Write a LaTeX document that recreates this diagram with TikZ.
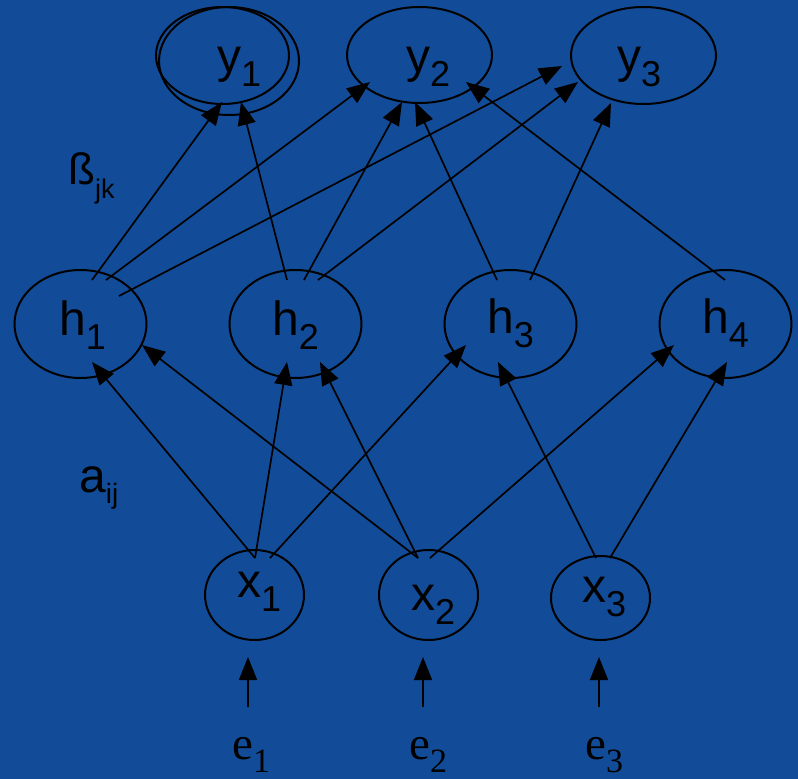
\documentclass[tikz,border=0pt]{standalone}
\usepackage{fontspec}
\setmainfont{Liberation Sans}
\newfontfamily\serifface{Liberation Serif}
\usetikzlibrary{shapes.geometric,arrows.meta}
\definecolor{bgblue}{RGB}{18,76,152}
\newcommand{\vsub}[2]{#1\raisebox{-14pt}{\fontsize{36}{36}\selectfont #2}}
\newcommand{\esub}[2]{{\serifface\fontsize{47}{47}\selectfont #1\raisebox{-13pt}{\fontsize{34}{34}\selectfont #2}}}
\begin{document}
\begin{tikzpicture}[x=1pt,y=-1pt,
  ell/.style={ellipse, draw=black, line width=2pt, inner sep=0pt},
  lab/.style={inner sep=0pt, anchor=base west, text=black, font=\fontsize{48}{48}\selectfont},
  arr/.style={draw=black, line width=1.7pt, -{Triangle[length=23pt,width=18pt]}}]
\useasboundingbox (0,0) rectangle (798,779);
\fill[bgblue] (0,0) rectangle (798,779);
% output layer
\node[ell, minimum width=133pt, minimum height=97pt] (y1) at (222.5,55.5) {};
\node[ell, minimum width=140pt, minimum height=108pt] (y1b) at (229,61) {};
\node[ell, minimum width=145pt, minimum height=96pt] (y2) at (419.5,55) {};
\node[ell, minimum width=145pt, minimum height=97pt] (y3) at (643.5,55.5) {};
% hidden layer
\node[ell, minimum width=132pt, minimum height=108pt] (h1) at (80.5,324) {};
\node[ell, minimum width=132pt, minimum height=108pt] (h2) at (295.5,324) {};
\node[ell, minimum width=132pt, minimum height=108pt] (h3) at (510.5,324) {};
\node[ell, minimum width=132pt, minimum height=108pt] (h4) at (725.5,324) {};
% input layer
\node[ell, minimum width=99pt, minimum height=90pt] (x1) at (254.5,595) {};
\node[ell, minimum width=99pt, minimum height=90pt] (x2) at (428.5,595) {};
\node[ell, minimum width=99pt, minimum height=84pt] (x3) at (600.5,598) {};
% labels
\node[lab] (ty1) at (217,72) {\vsub{y}{1}};
\node[lab] (ty2) at (406,72) {\vsub{y}{2}};
\node[lab] (ty3) at (617,72) {\vsub{y}{3}};
\node[lab] (th1) at (59,335) {\vsub{h}{1}};
\node[lab] (th2) at (272,335) {\vsub{h}{2}};
\node[lab] (th3) at (487,333) {\vsub{h}{3}};
\node[lab] (th4) at (702,333) {\vsub{h}{4}};
\node[lab] (tx1) at (237,597) {\vsub{x}{1}};
\node[lab] (tx2) at (411,610) {\vsub{x}{2}};
\node[lab] (tx3) at (582,602) {\vsub{x}{3}};
\node[lab] (e1) at (232,759) {\esub{e}{1}};
\node[lab] (e2) at (409,759) {\esub{e}{2}};
\node[lab] (e3) at (585,759) {\esub{e}{3}};
\node[lab, font=\fontsize{44}{44}\selectfont] (beta) at (68,184) {ß\raisebox{-14pt}{\fontsize{27}{27}\selectfont jk}};
\node[lab] (alpha) at (79,492) {a\raisebox{-11pt}{\fontsize{28}{28}\selectfont ij}};
% hidden -> output
\draw[arr] ([shift={(11.5,-44)}]h1.center) -- ([shift={(-0.5,46.5)}]y1.center);
\draw[arr] ([shift={(-8.5,-44)}]h2.center) -- ([shift={(18.5,46.5)}]y1.center);
\draw[arr] ([shift={(25.5,-44)}]h1.center) -- ([shift={(-49.5,27)}]y2.center);
\draw[arr] ([shift={(8.5,-44)}]h2.center) -- ([shift={(-17.5,47)}]y2.center);
\draw[arr] ([shift={(-13.5,-44)}]h3.center) -- ([shift={(-4.5,47)}]y2.center);
\draw[arr] ([shift={(-0.5,-44)}]h4.center) -- ([shift={(46.5,27)}]y2.center);
\draw[arr] ([shift={(38.5,-28)}]h1.center) -- ([shift={(-81.5,10.5)}]y3.center);
\draw[arr] ([shift={(22.5,-44)}]h2.center) -- ([shift={(-65.5,26.5)}]y3.center);
\draw[arr] ([shift={(19.5,-44)}]h3.center) -- ([shift={(-32.5,47.5)}]y3.center);
% input -> hidden
\draw[arr] ([shift={(0.5,-37)}]x1.center) -- ([shift={(11.5,38)}]h1.center);
\draw[arr] ([shift={(0.5,-37)}]x1.center) -- ([shift={(-8.5,38)}]h2.center);
\draw[arr] ([shift={(15.5,-37)}]x1.center) -- ([shift={(-44.5,21)}]h3.center);
\draw[arr] ([shift={(-10.5,-37)}]x2.center) -- ([shift={(61.5,21)}]h1.center);
\draw[arr] ([shift={(-10.5,-37)}]x2.center) -- ([shift={(24.5,38)}]h2.center);
\draw[arr] ([shift={(1.5,-37)}]x2.center) -- ([shift={(-51.5,21)}]h4.center);
\draw[arr] ([shift={(-4.5,-40)}]x3.center) -- ([shift={(-12.5,38)}]h3.center);
\draw[arr] ([shift={(9.5,-40)}]x3.center) -- ([shift={(1.5,38)}]h4.center);
% errors -> input
\draw[arr] ([shift={(16,-52)}]e1.base west) -- ([shift={(-6.5,62)}]x1.center);
\draw[arr] ([shift={(14,-52)}]e2.base west) -- ([shift={(-5.5,62)}]x2.center);
\draw[arr] ([shift={(14,-52)}]e3.base west) -- ([shift={(-1.5,59)}]x3.center);
\end{tikzpicture}
\end{document}
